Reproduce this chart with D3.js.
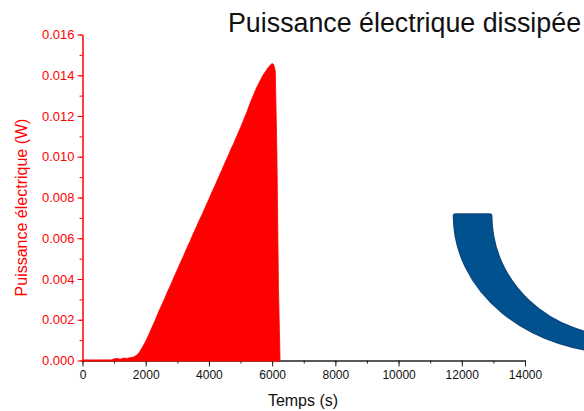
<!DOCTYPE html>
<html>
<head>
<meta charset="utf-8">
<script src="https://cdn.jsdelivr.net/npm/d3@7"></script>
<style>
  body { margin: 0; background: #fff; }
  svg { display: block; font-family: "Liberation Sans", Arial, sans-serif; }
</style>
</head>
<body>
<div id="chart"></div>
<script>
// temps (s) et puissance (W)
const temps = [0, 500, 900, 1000, 1100, 1200, 1300, 1400, 1500, 1600, 1700, 1800, 1900,
  2000, 2100, 2200, 2300, 2400, 2500, 2600, 2700, 2800, 2900,
  3000, 3100, 3200, 3300, 3400, 3500, 3600, 3700, 3800, 3900,
  4000, 4100, 4200, 4300, 4400, 4500, 4600, 4700, 4800, 4900,
  5000, 5100, 5200, 5300, 5400, 5500, 5600, 5700, 5800, 5900,
  6000, 6050, 6100, 6150, 6200, 6250];
const puissance = [0, 0, 0, 0.00008, 0.00010, 0.00006, 0.00012, 0.00010, 0.00014, 0.00016, 0.00024, 0.00040, 0.00066,
  0.00095, 0.00128, 0.00163, 0.00197, 0.00236, 0.00270, 0.00304, 0.00341, 0.00374, 0.00411,
  0.00445, 0.00481, 0.00514, 0.00551, 0.00584, 0.00621, 0.00654, 0.00690, 0.00722, 0.00758,
  0.00792, 0.00828, 0.00861, 0.00898, 0.00931, 0.00968, 0.01001, 0.01038, 0.01071, 0.01108,
  0.01143, 0.01181, 0.01219, 0.01262, 0.01299, 0.01336, 0.01367, 0.01397, 0.01421, 0.01443,
  0.01458, 0.01452, 0.01420, 0.01020, 0.00360, 0];

const xTicks = [0, 2000, 4000, 6000, 8000, 10000, 12000, 14000];
const yTicks = [0, 0.002, 0.004, 0.006, 0.008, 0.010, 0.012, 0.014, 0.016];

const width = 584, height = 411;
const red = "#ff0000";

const svg = d3.select("#chart")
    .append("svg")
    .attr("width", width)
    .attr("height", height);

const x = d3.scaleLinear().domain([0, 14000]).range([82.5, 525]);
const y = d3.scaleLinear().domain([0, 0.016]).range([360.5, 34.5]);

const data = temps.map((t, i) => ({ t, p: puissance[i] }));

// decorative blue band on the right
svg.append("path")
    .attr("d", "M453.5,216 Q453.5,214 455.5,214 L489.7,214 Q491.7,214 491.7,216 " +
               "A128.3,120 0 0 0 620,336 L620,353 A166.5,137 0 0 1 453.5,216 Z")
    .attr("fill", "#02518f")
    .attr("stroke", "#0a4882")
    .attr("stroke-width", 1.5);

// area
svg.append("path")
    .datum(data)
    .attr("fill", red)
    .attr("stroke", red)
    .attr("stroke-width", 0.8)
    .attr("d", d3.area()
        .x(d => x(d.t))
        .y0(y(0))
        .y1(d => y(d.p)));

// x axis
const xAxis = svg.append("g")
    .attr("transform", `translate(0,${y(0)})`);
xAxis.call(d3.axisBottom(x).tickValues(d3.range(0, 14001, 1000)).tickSize(3).tickFormat(""));
xAxis.call(g => g.select(".domain").remove());
const xMajor = svg.append("g")
    .attr("transform", `translate(0,${y(0)})`)
    .call(d3.axisBottom(x).tickValues(xTicks).tickSize(6).tickSizeOuter(0).tickPadding(4)
        .tickFormat(d3.format("d")));
xMajor.select(".domain").attr("stroke", "#222").attr("stroke-width", 1.5);
xMajor.selectAll("line").attr("stroke", "#222");
xMajor.selectAll("text").attr("font-size", 12).attr("fill", "#111")
    .attr("font-family", "Liberation Sans, Arial, sans-serif");
xAxis.selectAll("line").attr("stroke", "#222");

// red baseline of the series
svg.append("line")
    .attr("x1", x(0)).attr("x2", x(d3.max(temps)))
    .attr("y1", y(0)).attr("y2", y(0))
    .attr("stroke", red).attr("stroke-width", 2);

// y axis
const yMinor = svg.append("g")
    .attr("transform", `translate(${x(0)},0)`)
    .call(d3.axisLeft(y).tickValues(d3.range(0, 0.0161, 0.001)).tickSize(3).tickFormat(""));
yMinor.select(".domain").remove();
yMinor.selectAll("line").attr("stroke", red);
const yAxis = svg.append("g")
    .attr("transform", `translate(${x(0)},0)`)
    .call(d3.axisLeft(y).tickValues(yTicks).tickSize(5).tickSizeOuter(0).tickPadding(3)
        .tickFormat(d3.format(".3f")));
yAxis.select(".domain").attr("stroke", red).attr("stroke-width", 1.5);
yAxis.selectAll("line").attr("stroke", red);
yAxis.selectAll("text").attr("fill", red).attr("font-size", 13)
    .attr("font-family", "Liberation Sans, Arial, sans-serif");

// labels
svg.append("text")
    .attr("x", 303).attr("y", 406)
    .attr("text-anchor", "middle")
    .attr("font-size", 16)
    .attr("fill", "#111")
    .text("Temps (s)");

svg.append("text")
    .attr("transform", "translate(27,207.5) rotate(-90)")
    .attr("text-anchor", "middle")
    .attr("font-size", 16)
    .attr("fill", red)
    .text("Puissance électrique (W)");

svg.append("text")
    .attr("x", 228).attr("y", 32)
    .attr("font-size", 26.8)
    .attr("fill", "#111")
    .text("Puissance électrique dissipée");
</script>
</body>
</html>
